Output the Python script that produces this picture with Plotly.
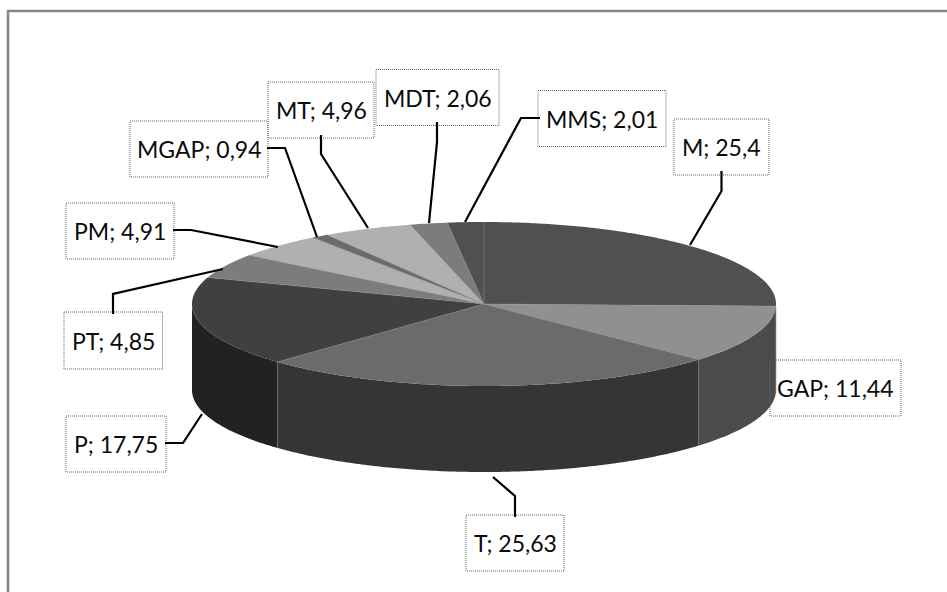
import numpy as np
import plotly.graph_objects as go

categories = ["M", "GAP", "T", "P", "PT", "PM", "MGAP", "MT", "MDT", "MMS"]
values = [25.4, 11.44, 25.63, 17.75, 4.85, 4.91, 0.94, 4.96, 2.06, 2.01]
value_labels = ["25,4", "11,44", "25,63", "17,75", "4,85", "4,91", "0,94", "4,96", "2,06", "2,01"]
top_colors = ["#505050", "#909090", "#6b6b6b", "#404040", "#7c7c7c",
              "#b0b0b0", "#6b6b6b", "#b0b0b0", "#7c7c7c", "#505050"]
side_colors = ["#3a3a3a", "#4b4b4b", "#353535", "#222222", "#3a3a3a",
               "#3a3a3a", "#353535", "#3a3a3a", "#3a3a3a", "#3a3a3a"]

# Pie projection, in page pixels
CX, CY, RX, RY, DEPTH = 484.0, 304.0, 292.0, 82.0, 86.0
W, H = 947, 592

# Label boxes (x0, y0, x1, y1) and leader lines, per category
boxes = {
    "M": (674, 119, 769, 175), "GAP": (770, 360, 901, 416), "T": (466, 515, 564, 571),
    "P": (66, 416, 166, 472), "PT": (64, 312, 162.5, 369), "PM": (66, 203, 174, 259),
    "MGAP": (130, 121, 268, 177), "MT": (268, 82, 374, 138), "MDT": (376, 69.5, 499, 125.5),
    "MMS": (538, 90.5, 666, 146.5),
}
leaders = {
    "M": [(721.5, 171), (721.5, 191), (690, 245)],
    "T": [(515, 517), (515, 496), (493, 477)],
    "P": [(165, 443), (183, 443), (202, 414)],
    "PT": [(113, 314), (113, 294), (223, 269)],
    "PM": [(173, 230), (191, 230), (278, 247)],
    "MGAP": [(267, 148), (285, 148), (317, 237)],
    "MT": [(321, 135), (321, 154), (368, 228)],
    "MDT": [(437, 122), (437, 142), (429, 223)],
    "MMS": [(540, 118), (521, 118), (465, 222)],
}


def rim(a0, a1, dy=0.0):
    n = max(2, int(abs(a1 - a0) * 90) + 2)
    t = np.linspace(a0, a1, n)
    return CX + RX * np.sin(t), CY - RY * np.cos(t) + dy


frac = np.array(values) / sum(values)
ends = np.cumsum(frac) * 2 * np.pi
starts = ends - frac * 2 * np.pi

fig = go.Figure()

# Side walls: only the near half of the rim is visible
for s, e, col in zip(starts, ends, side_colors):
    a0, a1 = max(s, np.pi / 2), min(e, 3 * np.pi / 2)
    if a1 <= a0:
        continue
    xt, yt = rim(a0, a1)
    xb, yb = rim(a1, a0, DEPTH)
    fig.add_trace(go.Scatter(
        x=np.r_[xt, xb, xt[0]], y=np.r_[yt, yb, yt[0]], mode="none", fill="toself",
        fillcolor=col, hoverinfo="skip"))

# Top faces
for s, e, col in zip(starts, ends, top_colors):
    xt, yt = rim(s, e)
    fig.add_trace(go.Scatter(
        x=np.r_[CX, xt, CX], y=np.r_[CY, yt, CY], mode="none", fill="toself",
        fillcolor=col, hoverinfo="skip"))

# Thin seams: radial lines on the top face, vertical ones on the visible wall
for e in np.r_[0.0, ends[:-1]]:
    xe, ye = rim(e, e)
    fig.add_trace(go.Scatter(x=[CX, xe[0]], y=[CY, ye[0]], mode="lines",
                             line=dict(color="#8c8c8c", width=0.5), hoverinfo="skip"))
    if np.pi / 2 < e < 3 * np.pi / 2:
        fig.add_trace(go.Scatter(x=[xe[0], xe[0]], y=[ye[0], ye[0] + DEPTH], mode="lines",
                                 line=dict(color="#7a7a7a", width=0.6), hoverinfo="skip"))

shapes = [
    dict(type="line", xref="x", yref="y", x0=8, y0=11, x1=8, y1=H,
         line=dict(color="#868686", width=2.6)),
    dict(type="line", xref="x", yref="y", x0=7, y0=11, x1=W, y1=11,
         line=dict(color="#868686", width=2.6)),
]
annotations = []
for name, val in zip(categories, value_labels):
    x0, y0, x1, y1 = boxes[name]
    shapes.append(dict(type="rect", xref="x", yref="y", x0=x0, y0=y0, x1=x1, y1=y1,
                       line=dict(color="#666666", width=1, dash="1px,1px")))
    annotations.append(dict(x=(x0 + x1) / 2, y=(y0 + y1) / 2, xref="x", yref="y",
                            text=f"{name}; {val}", showarrow=False,
                            font=dict(family="Lato", size=23, color="#0a0a0a")))
    if name in leaders:
        path = "M " + " L ".join(f"{px} {py}" for px, py in leaders[name])
        shapes.append(dict(type="path", xref="x", yref="y", path=path,
                           line=dict(color="#000000", width=2.2)))

fig.update_layout(
    width=W, height=H, margin=dict(l=0, r=0, t=0, b=0), showlegend=False,
    paper_bgcolor="white", plot_bgcolor="white", shapes=shapes, annotations=annotations,
    xaxis=dict(range=[0, W], visible=False, fixedrange=True),
    yaxis=dict(range=[H, 0], visible=False, fixedrange=True),
)
fig.write_html("out.html", config=dict(displayModeBar=False),
               post_script="document.body.style.margin='0';document.body.style.overflow='hidden';")
